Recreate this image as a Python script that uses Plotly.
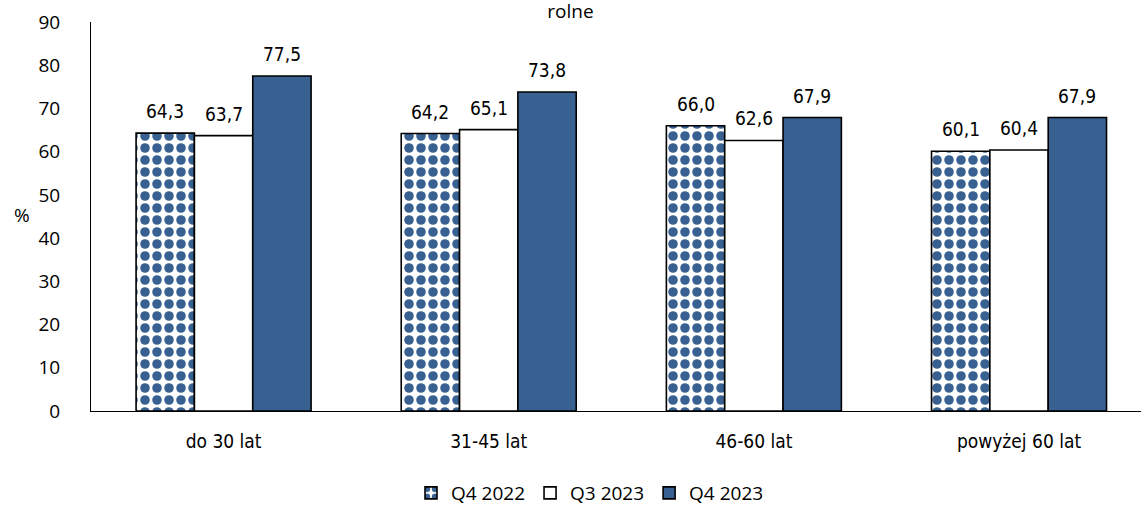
import plotly.graph_objects as go

categories = ["do 30 lat", "31-45 lat", "46-60 lat", "powyżej 60 lat"]
q4_2022 = [64.3, 64.2, 66.0, 60.1]
q3_2023 = [63.7, 65.1, 62.6, 60.4]
q4_2023 = [77.5, 73.8, 67.9, 67.9]
series_names = ["Q4 2022", "Q3 2023", "Q4 2023"]
y_ticks = [0, 10, 20, 30, 40, 50, 60, 70, 80, 90]

BLUE = "#386192"
FONT = "DejaVu Sans Condensed"
SANS = "Open Sans"
BARGAP = 0.34
PX_PER_CAT = 1050 / 3.96
W, H = 1141, 508

fig = go.Figure()
fig.add_trace(go.Bar(
    x=categories, y=q4_2022, name=series_names[0],
    marker=dict(color="white", line=dict(color="black", width=1.6),
                pattern=dict(shape=".", fgcolor=BLUE, bgcolor="white",
                             size=12, solidity=0.5, fillmode="replace")),
))
fig.add_trace(go.Bar(
    x=categories, y=q3_2023, name=series_names[1],
    marker=dict(color="white", line=dict(color="black", width=1.6)),
))
fig.add_trace(go.Bar(
    x=categories, y=q4_2023, name=series_names[2],
    marker=dict(color=BLUE, line=dict(color="black", width=1.6)),
))

# data labels placed through the axes (category + value), offset per series
bar_px = PX_PER_CAT * (1 - BARGAP) / 3
for k, vals in enumerate([q4_2022, q3_2023, q4_2023]):
    for cat, v in zip(categories, vals):
        fig.add_annotation(
            x=cat, y=v, xref="x", yref="y",
            text=f"{v:.1f}".replace(".", ","),
            showarrow=False, xshift=(k - 1) * bar_px, yshift=22,
            font=dict(family=FONT, size=19, color="black"),
        )

fig.add_annotation(
    text="%", xref="paper", yref="paper", x=(22 - 91) / 1050, y=(411 - 215) / 389,
    xanchor="center", yanchor="middle",
    showarrow=False, font=dict(family=SANS, size=19, color="black"),
)

fig.update_layout(
    width=W, height=H,
    separators=", ",
    barmode="group", bargap=BARGAP, bargroupgap=0,
    plot_bgcolor="white", paper_bgcolor="white",
    margin=dict(l=91, r=0, t=22, b=97, autoexpand=False),
    font=dict(family=FONT, size=19, color="black"),
    title=dict(text="rolne", x=0.5, xanchor="center", xref="container",
               y=1 - 11 / H, yanchor="middle", yref="container",
               font=dict(size=19, family=SANS, color="black")),
    showlegend=True,
    legend=dict(orientation="h", x=590 / W, xanchor="center", xref="container",
                y=15 / H, yanchor="middle", yref="container",
                font=dict(size=19, family=SANS), itemwidth=30,
                traceorder="normal"),
)
fig.update_xaxes(
    type="category", range=[-0.5, 3.46], automargin=False,
    showline=True, linecolor="black", linewidth=1, ticks="",
    ticklabelstandoff=13, tickfont=dict(size=19, family=FONT),
)
fig.update_yaxes(
    range=[0, 90], tickvals=y_ticks, showgrid=False, zeroline=False,
    automargin=False,
    showline=True, linecolor="black", linewidth=1, ticks="",
    ticklabelstandoff=26, tickfont=dict(size=19, family=SANS),
)

fig.write_html("out.html", config={"displayModeBar": False},
               post_script="document.body.style.margin='0px';")
